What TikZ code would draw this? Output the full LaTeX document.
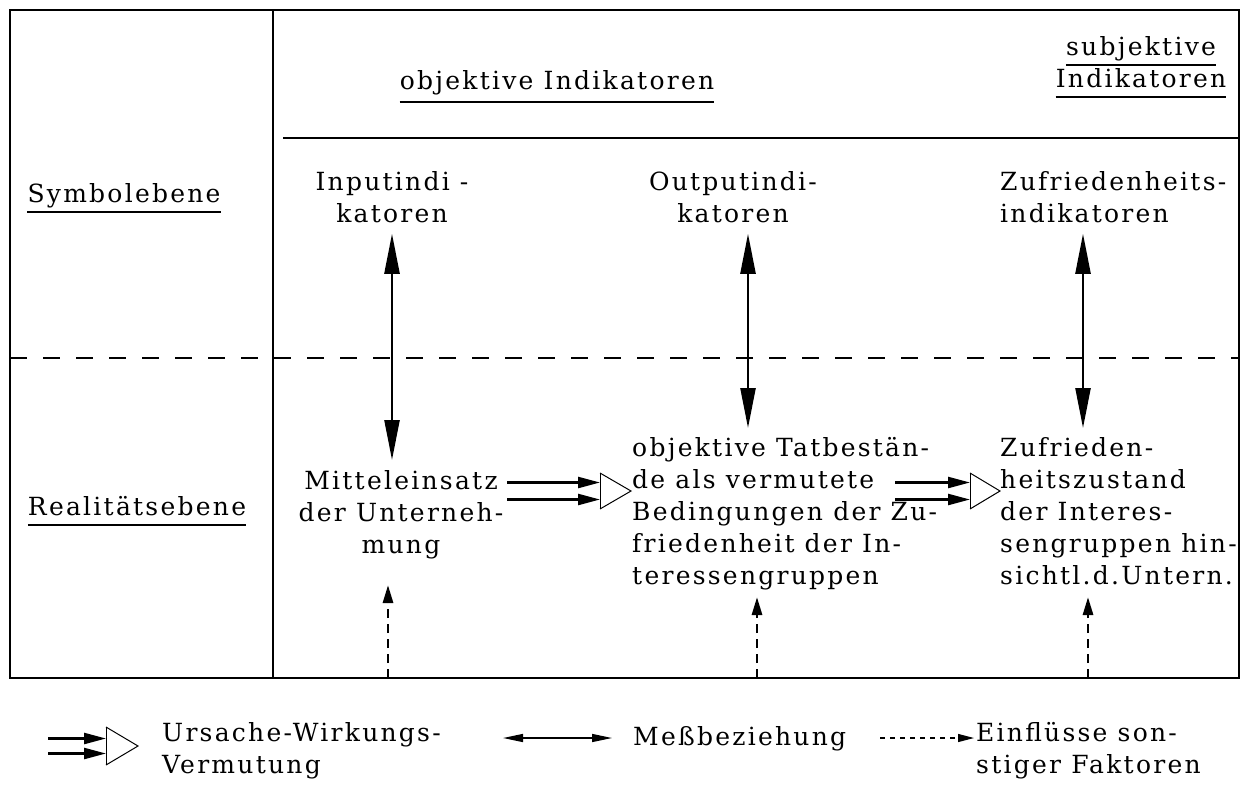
\documentclass[tikz,border=0pt]{standalone}
\usepackage{fontspec}
\setmainfont{DejaVu Serif}[LetterSpace=9]
\usetikzlibrary{arrows.meta}
\begin{document}
\begin{tikzpicture}[x=1pt,y=-1pt,
  txt/.style={font=\fontsize{25}{32}\selectfont, inner sep=0pt},
  frame/.style={line width=2.4pt},
  meas/.style={line width=2.4pt, {Triangle[length=40pt,width=15pt]}-{Triangle[length=40pt,width=15pt]}},
  legmeas/.style={line width=1.4pt, {Triangle[length=20pt,width=8pt]}-{Triangle[length=20pt,width=8pt]}},
  infl/.style={line width=2.8pt, dash pattern=on 9pt off 6pt, -{Triangle[length=18pt,width=10pt]}},
  leginfl/.style={line width=1.2pt, dash pattern=on 5pt off 5pt, -{Triangle[length=16pt,width=8pt]}},
  causeline/.style={line width=2.4pt, -{Triangle[length=22pt,width=11pt]}},
  causehead/.style={line width=1pt, line join=miter},
  uline/.style={line width=1.6pt}
]
\useasboundingbox (0,0) rectangle (1246,787);
\fill[white] (0,0) rectangle (1246,787);
% frame
\draw[frame] (10,10) rectangle (1239,678);
\draw[frame] (273,10) -- (273,678);
\draw[line width=1.6pt] (283,138) -- (1239,138);
\draw[line width=2pt, dash pattern=on 17pt off 16pt] (10,358) -- (1239,358);
% header
\node[txt, anchor=base] (obj) at (557,89) {objektive Indikatoren};
\draw[uline] ([yshift=-13pt]obj.base west) -- ([yshift=-13pt]obj.base east);
\node[txt, anchor=base] (subj) at (1141,55) {subjektive};
\draw[uline] ([yshift=-10pt]subj.base west) -- ([yshift=-10pt]subj.base east);
\node[txt, anchor=base] (subjind) at (1141,87) {Indikatoren};
\draw[uline] ([yshift=-10pt]subjind.base west) -- ([yshift=-10pt]subjind.base east);
% row labels
\node[txt, anchor=base] (symb) at (124,202) {Symbolebene};
\draw[uline] ([yshift=-10pt]symb.base west) -- ([yshift=-10pt]symb.base east);
\node[txt, anchor=base] (real) at (137,515) {Realitätsebene};
\draw[uline] ([yshift=-10pt]real.base west) -- ([yshift=-10pt]real.base east);
% symbol level
\node[txt, anchor=north, align=center] (inp) at (392,171) {Inputindi -\\katoren};
\node[txt, anchor=north, align=center] (outp) at (733,171) {Outputindi-\\katoren};
\node[txt, anchor=north west, align=left] (zufi) at (1000,171) {Zufriedenheits-\\indikatoren};
% reality level
\node[txt, anchor=north, align=center] (mit) at (401,470) {Mitteleinsatz\\der Unterneh-\\mung};
\node[txt, anchor=north west, align=left] (tat) at (632,437) {objektive Tatbestän-\\de als vermutete\\Bedingungen der Zu-\\friedenheit der In-\\teressengruppen};
\node[txt, anchor=north west, align=left] (zus) at (1000,437) {Zufrieden-\\heitszustand\\der Interes-\\sengruppen hin-\\sichtl.d.Untern.};
% measurement arrows
\coordinate (m1) at ([yshift=-11pt]inp.south);
\draw[meas] (m1) -- (m1 |- 0,460);
\coordinate (m2) at ([xshift=15pt,yshift=-11pt]outp.south);
\draw[meas] (m2) -- (m2 |- 0,428);
\coordinate (m3) at ([xshift=83pt,yshift=-11pt]zufi.south west);
\draw[meas] (m3) -- (m3 |- 0,428);
% cause arrows
\newcommand\causearr[6]{%
  \draw[causeline] (#1,{#4-#6}) -- (#2,{#4-#6});
  \draw[causeline] (#1,{#4+#6}) -- (#2,{#4+#6});
  \draw[causehead] (#2,{#4-#5}) -- (#3,#4) -- (#2,{#4+#5});
  \draw[line width=0.6pt] (#2,{#4-#5}) -- (#2,{#4+#5});
}
\causearr{507}{600}{631}{491}{18}{8.5}
\causearr{895}{970}{1000}{491}{18}{8.5}
% influence arrows
\coordinate (f1) at (388,678);
\draw[infl] (f1) -- (388,585);
\coordinate (f2) at (757,678);
\draw[infl] (f2) -- (757,597);
\coordinate (f3) at (1088,678);
\draw[infl] (f3) -- (1088,597);
% legend
\causearr{48}{106}{138}{746}{19}{7.5}
\node[txt, anchor=north west, align=left] (lcause) at (162,722) {Ursache-Wirkungs-\\Vermutung};
\node[txt, anchor=base west] (lmeas) at (633,745) {Meßbeziehung};
\draw[legmeas] ([xshift=-130pt,yshift=7pt]lmeas.base west) -- ([xshift=-21pt,yshift=7pt]lmeas.base west);
\node[txt, anchor=north west, align=left] (linfl) at (976,722) {Einflüsse son-\\stiger Faktoren};
\draw[leginfl] ([xshift=-96pt,yshift=7pt]linfl.west |- lmeas.base) -- ([xshift=-2pt,yshift=7pt]linfl.west |- lmeas.base);
\end{tikzpicture}
\end{document}
